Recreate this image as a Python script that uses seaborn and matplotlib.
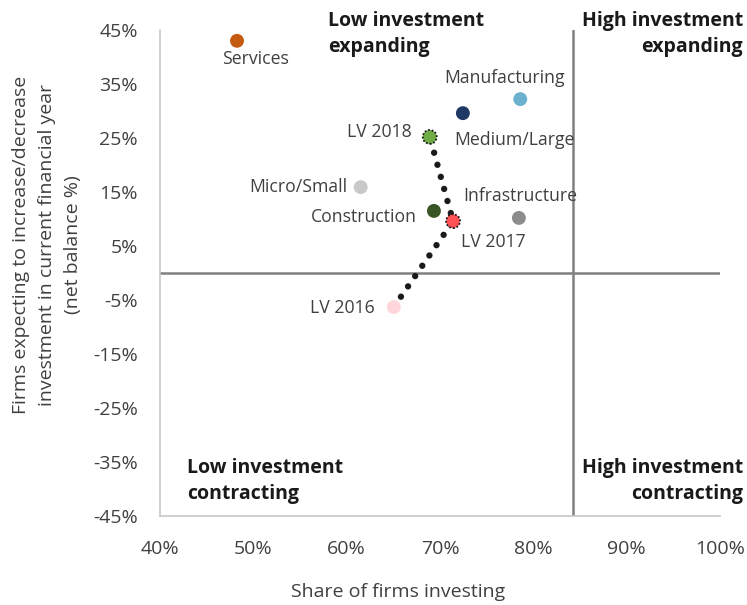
import matplotlib
matplotlib.use("Agg")
import matplotlib.pyplot as plt
import pandas as pd
import seaborn as sns
from matplotlib.ticker import FuncFormatter

# values
groups = ['Services', 'Manufacturing', 'Medium/Large', 'LV 2018', 'Micro/Small',
          'Construction', 'LV 2017', 'Infrastructure', 'LV 2016']
share_investing = [48.25, 78.6, 72.45, 68.9, 61.5, 69.35, 71.4, 78.45, 65.05]
net_balance = [43.0, 32.2, 29.6, 25.2, 15.9, 11.5, 9.6, 10.2, -6.3]

trend_years = ['LV 2016', 'LV 2017', 'LV 2018']

colors = {
    'Services': '#C55A11', 'Manufacturing': '#6CB2CE', 'Medium/Large': '#1F3864',
    'LV 2018': '#70AD47', 'Micro/Small': '#C9C9C9', 'Construction': '#375623',
    'LV 2017': '#FF5257', 'Infrastructure': '#8C8C8C', 'LV 2016': '#FFD7DA',
}
# label offsets in pixels (dx, dy) and alignment
label_pos = {
    'Services': (18, -18, 'center'),
    'Manufacturing': (-16, 21, 'center'),
    'Medium/Large': (-9, -27, 'left'),
    'LV 2018': (-18, 5, 'right'),
    'Micro/Small': (-13, 0, 'right'),
    'Construction': (-17, -6, 'right'),
    'LV 2017': (8, -21, 'left'),
    'Infrastructure': (-56, 22, 'left'),
    'LV 2016': (-19, -1, 'right'),
}

df = pd.DataFrame({'group': groups, 'share': share_investing, 'balance': net_balance})

sns.set_style('white')
plt.rcParams['font.family'] = ['Open Sans', 'DejaVu Sans']
text_color = '#404040'

fig = plt.figure(figsize=(7.47, 6.05), dpi=100)
ax = fig.add_axes([160 / 747, 1 - 516 / 605, 560 / 747, 486 / 605])

# quadrant dividers
ax.axhline(0, color='#808080', lw=1.8, zorder=1)
ax.axvline(84.2, color='#808080', lw=1.8, zorder=1)

# dotted trend through the LV years
trend = df.set_index('group').loc[trend_years]
ax.plot(trend['share'], trend['balance'], color='#1a1a1a', lw=4.6,
        linestyle=(0, (0.01, 1.95)), dash_capstyle='round', zorder=2)

plain = df[~df['group'].isin(['LV 2017', 'LV 2018'])]
sns.scatterplot(data=plain, x='share', y='balance', hue='group', palette=colors,
                s=100, edgecolor='none', legend=False, ax=ax, zorder=3)
ringed = df[df['group'].isin(['LV 2017', 'LV 2018'])]
ax.scatter(ringed['share'], ringed['balance'], c=[colors[g] for g in ringed['group']],
           s=100, edgecolors='#1a1a1a', linewidths=1.3, linestyle=(0, (1, 1)), zorder=4)

for g, x, y in zip(groups, share_investing, net_balance):
    dx, dy, ha = label_pos[g]
    ax.annotate(g, (x, y), xytext=(dx, dy), textcoords='offset pixels',
                ha=ha, va='center', fontsize=12.7, color=text_color)

ax.set_xlim(40, 100)
ax.set_ylim(-45, 45)
ax.set_xticks(range(40, 101, 10))
ax.set_yticks(range(-45, 46, 10))
ax.xaxis.set_major_formatter(FuncFormatter(lambda v, p: f'{v:.0f}%'))
ax.yaxis.set_major_formatter(FuncFormatter(lambda v, p: f'{v:.0f}%'))
ax.tick_params(labelsize=14, colors=text_color, length=0)
ax.tick_params(axis='x', pad=17)
ax.tick_params(axis='y', pad=16)

for side in ['top', 'right']:
    ax.spines[side].set_visible(False)
for side in ['left', 'bottom']:
    ax.spines[side].set_color('#C8C8C8')
    ax.spines[side].set_linewidth(1.2)
ax.set_xlabel('')
ax.set_ylabel('')

# axis titles
fig.text(398 / 747, 1 - 592 / 605, 'Share of firms investing', ha='center', va='center',
         fontsize=14, color=text_color)
fig.text(47 / 747, 1 - 245 / 605,
         'Firms expecting to increase/decrease\ninvestment in current financial year\n(net balance %)',
         rotation=90, ha='center', va='center', multialignment='center',
         fontsize=14, color=text_color, linespacing=1.55)

bold = dict(fontsize=14, fontweight='bold', color='#1a1a1a', linespacing=1.45)
fig.text(328 / 747, 1 - 34 / 605, 'Low investment\nexpanding', ha='left', va='center', **bold)
fig.text(743 / 747, 1 - 34 / 605, 'High investment\nexpanding', ha='right', va='center',
         multialignment='right', **bold)
fig.text(187 / 747, 1 - 481 / 605, 'Low investment\ncontracting', ha='left', va='center', **bold)
fig.text(743 / 747, 1 - 481 / 605, 'High investment\ncontracting', ha='right', va='center',
         multialignment='right', **bold)

fig.savefig('out.png', dpi=100)
